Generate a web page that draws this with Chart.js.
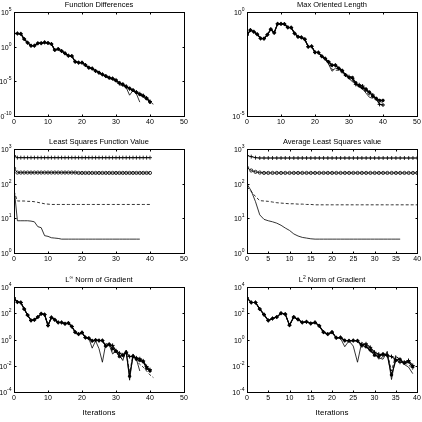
<!DOCTYPE html>
<html>
<head>
<script src="https://cdn.jsdelivr.net/npm/chart.js"></script>
<style>
  body { margin: 0; background: #fff; }
  #wrap { position: relative; width: 422px; height: 422px; overflow: hidden; }
  canvas { position: absolute; }
</style>
</head>
<body>
<div id="wrap">
  <canvas id="c1" width="211" height="135" style="left:0;top:0"></canvas>
  <canvas id="c2" width="211" height="135" style="left:211px;top:0"></canvas>
  <canvas id="c3" width="211" height="140" style="left:0;top:135px"></canvas>
  <canvas id="c4" width="211" height="140" style="left:211px;top:135px"></canvas>
  <canvas id="c5" width="211" height="147" style="left:0;top:275px"></canvas>
  <canvas id="c6" width="211" height="147" style="left:211px;top:275px"></canvas>
</div>
<script>
// all values are log10 of the plotted quantity, index = iteration

// Function Differences
const fdMain = [1.9, 1.9, 1.85, 1.1, 0.57, 0.14, 0.14, 0.48, 0.5, 0.62, 0.53, 0.38, -0.48, -0.34, -0.63, -0.96, -1.3, -1.35, -2.17, -2.3, -2.3, -2.65, -3.03, -3.15, -3.5, -3.75, -4.0, -4.24, -4.48, -4.6, -4.8, -5.3, -5.5, -5.7, -6.07, -6.25, -6.55, -6.8, -7.05, -7.4, -7.9];
const fdO = fdMain.slice(0, 30).concat([-4.9, -5.2, -5.4, -5.8, -6.0, -6.3, -6.6, -6.9, -7.1, -7.5, -8.0]);
const fdDash = fdMain.slice(0, 26).concat([-4.1, -4.4, -4.5, -4.8, -5.0, -5.3, -5.4, -5.8, -6.1, -6.5, -6.7, -7.0, -7.3, -7.6, -8.0, -8.3]);
const fdSolid = fdMain.slice(0, 27).concat([-4.3, -4.6, -4.7, -5.0, -5.5, -5.6, -5.9, -7.0, -6.3, -6.8, -8.0]);

// Max Oriented Length
const molMain = [-1.1, -0.87, -0.95, -1.07, -1.27, -1.28, -1.09, -0.83, -1.0, -0.57, -0.57, -0.58, -0.74, -0.75, -1.03, -1.19, -1.22, -1.31, -1.67, -1.65, -1.94, -1.95, -2.13, -2.24, -2.4, -2.56, -2.56, -2.71, -2.82, -3.03, -3.11, -3.2, -3.48, -3.5, -3.56, -3.75, -3.88, -3.99, -4.18, -4.44, -4.47];
const molO = molMain.slice(0, 30).concat([-3.15, -3.15, -3.4, -3.55, -3.65, -3.7, -3.85, -4.05, -4.15, -4.25, -4.25]);
const molDash = molMain.slice(0, 23).concat([-2.3, -2.5, -2.75, -2.8, -2.8, -2.95, -3.1, -3.2, -3.3, -3.5, -3.6, -3.7, -3.85, -4.0, -4.1, -4.2, -4.3, -4.35]);
const molSolid = molMain.slice(0, 24).concat([-2.5, -2.85, -2.7, -2.75, -2.9, -3.0, -3.2, -3.35, -3.4, -3.6, -3.7, -3.9, -4.1, -4.15]);

// Least Squares Function Value
const lsPlus = [2.81, 2.75, 2.75, 2.75, 2.75, 2.75, 2.75, 2.75, 2.75, 2.75, 2.75, 2.75, 2.75, 2.75, 2.75, 2.75, 2.75, 2.75, 2.75, 2.75, 2.75, 2.75, 2.75, 2.75, 2.75, 2.75, 2.75, 2.75, 2.75, 2.75, 2.75, 2.75, 2.75, 2.75, 2.75, 2.75, 2.75, 2.75, 2.75, 2.75, 2.75];
const lsO = [2.44, 2.32, 2.32, 2.32, 2.32, 2.32, 2.32, 2.32, 2.32, 2.32, 2.32, 2.32, 2.32, 2.32, 2.32, 2.32, 2.32, 2.32, 2.32, 2.31, 2.31, 2.31, 2.31, 2.31, 2.31, 2.31, 2.31, 2.31, 2.31, 2.31, 2.31, 2.31, 2.31, 2.31, 2.31, 2.31, 2.31, 2.31, 2.31, 2.31, 2.31];
const lsDash = [1.78, 1.5, 1.5, 1.5, 1.49, 1.49, 1.48, 1.46, 1.44, 1.42, 1.41, 1.4, 1.4, 1.4, 1.4, 1.4, 1.4, 1.4, 1.4, 1.4, 1.4, 1.4, 1.4, 1.4, 1.4, 1.4, 1.4, 1.4, 1.4, 1.4, 1.4, 1.4, 1.4, 1.4, 1.4, 1.4, 1.4, 1.4, 1.4, 1.4, 1.4];
const lsSolid = [1.9, 0.93, 0.93, 0.93, 0.93, 0.92, 0.9, 0.76, 0.73, 0.5, 0.48, 0.44, 0.43, 0.42, 0.4, 0.4, 0.4, 0.4, 0.4, 0.4, 0.4, 0.4, 0.4, 0.4, 0.4, 0.4, 0.4, 0.4, 0.4, 0.4, 0.4, 0.4, 0.4, 0.4, 0.4, 0.4, 0.4, 0.4];

// Average Least Squares value
const avgPlus = [2.81, 2.78, 2.75, 2.74, 2.74, 2.74, 2.74, 2.74, 2.74, 2.74, 2.74, 2.74, 2.74, 2.74, 2.74, 2.74, 2.74, 2.74, 2.74, 2.74, 2.74, 2.74, 2.74, 2.74, 2.74, 2.74, 2.74, 2.74, 2.74, 2.74, 2.74, 2.74, 2.74, 2.74, 2.74, 2.74, 2.74, 2.74, 2.74, 2.74, 2.74];
const avgO = [2.46, 2.38, 2.34, 2.32, 2.31, 2.31, 2.31, 2.31, 2.31, 2.31, 2.31, 2.31, 2.31, 2.31, 2.31, 2.31, 2.31, 2.31, 2.31, 2.31, 2.31, 2.31, 2.31, 2.31, 2.31, 2.31, 2.31, 2.31, 2.31, 2.31, 2.31, 2.31, 2.31, 2.31, 2.31, 2.31, 2.31, 2.31, 2.31, 2.31, 2.31];
const avgDash = [1.91, 1.77, 1.63, 1.51, 1.5, 1.49, 1.47, 1.45, 1.44, 1.43, 1.42, 1.42, 1.41, 1.41, 1.4, 1.4, 1.39, 1.39, 1.39, 1.39, 1.39, 1.39, 1.39, 1.39, 1.39, 1.39, 1.39, 1.39, 1.39, 1.39, 1.39, 1.39, 1.39, 1.39, 1.39, 1.39, 1.39, 1.39, 1.39, 1.39, 1.39];
const avgSolid = [1.99, 1.79, 1.48, 1.1, 0.97, 0.93, 0.9, 0.86, 0.8, 0.72, 0.65, 0.55, 0.49, 0.45, 0.43, 0.41, 0.4, 0.4, 0.4, 0.4, 0.4, 0.4, 0.4, 0.4, 0.4, 0.4, 0.4, 0.4, 0.4, 0.4, 0.4, 0.4, 0.4, 0.4, 0.4, 0.4, 0.4];

// L-infinity norm of gradient
const linfMain = [3.16, 2.85, 2.82, 2.32, 1.86, 1.45, 1.5, 1.71, 1.96, 1.9, 1.07, 1.68, 1.5, 1.3, 1.3, 1.2, 1.25, 0.99, 0.56, 0.41, 0.53, 0.15, 0.1, -0.1, -0.05, -0.08, -0.08, -0.5, -0.37, -0.45, -0.86, -1.04, -1.17, -0.97, -1.3, -1.27, -1.4, -1.47, -1.63, -2.06, -2.3];
const linfO = linfMain.slice(0, 29).concat([-0.7, -0.9, -1.3, -1.2, -1.0, -2.8, -1.3, -1.5, -1.6, -1.7, -2.2, -2.4]);
const linfDash = linfMain.slice(0, 27).concat([-0.55, -0.3, -1.0, -0.9, -1.3, -1.5, -0.9, -2.5, -1.2, -1.6, -1.9, -2.1, -2.4, -2.7, -2.9]);
const linfSolid = linfMain.slice(0, 22).concat([0.1, -0.66, -0.1, -0.7, -1.73, -0.3, -0.4, -1.1, -0.9, -1.2, -1.6, -0.8, -3.1, -1.1, -1.5, -2.4]);

// L2 norm of gradient
const l2Main = [3.16, 2.82, 2.82, 2.32, 1.9, 1.45, 1.6, 1.71, 2.0, 1.93, 1.09, 1.71, 1.53, 1.3, 1.35, 1.22, 1.3, 1.04, 0.56, 0.41, 0.56, 0.13, 0.15, -0.08, -0.1, -0.08, -0.1, -0.43, -0.33, -0.6, -0.97, -1.12, -1.17, -1.22, -1.3, -1.53, -1.73, -1.73, -1.6, -1.98];
const l2O = l2Main.slice(0, 28).concat([-0.55, -0.8, -1.2, -1.3, -1.1, -1.2, -2.7, -1.6, -1.5, -1.8, -1.7, -2.1]);
const l2Dash = l2Main.slice(0, 27).concat([-0.6, -0.35, -0.95, -1.0, -1.5, -1.3, -1.0, -2.4, -1.2, -1.6, -1.8, -1.9, -2.3]);
const l2Solid = l2Main.slice(0, 22).concat([0.1, -0.55, -0.1, -0.5, -1.73, -0.2, -0.5, -0.9, -1.0, -1.4, -1.5, -0.9, -3.05, -1.3, -1.5, -1.9, -2.1, -2.6]);

// tick values
const xTicks50 = [0, 10, 20, 30, 40, 50];
const xTicks40 = [0, 5, 10, 15, 20, 25, 30, 35, 40];
const yTicksFD = [5, 0, -5, -10];
const yTicksMOL = [0, -5];
const yTicksLS = [3, 2, 1, 0];
const yTicksGrad = [4, 2, 0, -2, -4];

const FONT = '"Liberation Sans", Arial, Helvetica, sans-serif';

function pts(arr) {
  return arr.map((v, i) => ({ x: i, y: Math.pow(10, v) }));
}

// heavy = marker series that sit on top of each other (top and bottom rows)
function plusSet(arr, heavy) {
  return { data: pts(arr), borderColor: '#000', borderWidth: heavy ? 1.1 : 0.8, pointStyle: 'cross',
    pointRadius: 2, pointBorderWidth: heavy ? 1 : 0.8, pointBorderColor: '#000' };
}
function circleSet(arr, heavy) {
  return { data: pts(arr), borderColor: '#000', borderWidth: heavy ? 1.1 : 0.8, pointStyle: 'circle',
    pointRadius: heavy ? 1.3 : 1.6, pointBorderWidth: 0.8, pointBorderColor: '#000',
    pointBackgroundColor: heavy ? '#000' : 'rgba(0,0,0,0)' };
}
function dashSet(arr) {
  return { data: pts(arr), borderColor: '#000', borderWidth: 0.8, borderDash: [3, 2], pointRadius: 0 };
}
function solidSet(arr) {
  return { data: pts(arr), borderColor: '#000', borderWidth: 0.8, pointRadius: 0 };
}

// draws matlab style box, inward ticks, 10^n labels, title and x label
function axesPlugin(cfg) {
  return {
    id: 'mAxes',
    afterDraw(chart) {
      const ctx = chart.ctx, a = chart.chartArea;
      const xs = chart.scales.x, ys = chart.scales.y;
      ctx.save();
      ctx.strokeStyle = '#000';
      ctx.lineWidth = 1;
      const L = Math.round(a.left) + 0.5, T = Math.round(a.top) + 0.5;
      const R = Math.round(a.right) + 0.5, B = Math.round(a.bottom) + 0.5;
      ctx.strokeRect(L, T, R - L, B - T);
      ctx.beginPath();
      cfg.xTicks.forEach(v => {
        const px = Math.round(xs.getPixelForValue(v)) + 0.5;
        ctx.moveTo(px, B); ctx.lineTo(px, B - 2);
        ctx.moveTo(px, T); ctx.lineTo(px, T + 2);
      });
      cfg.yTicks.forEach(e => {
        const py = Math.round(ys.getPixelForValue(Math.pow(10, e))) + 0.5;
        ctx.moveTo(L, py); ctx.lineTo(L + 2, py);
        ctx.moveTo(R, py); ctx.lineTo(R - 2, py);
      });
      ctx.stroke();

      ctx.fillStyle = '#000';
      ctx.font = '7px ' + FONT;
      ctx.textAlign = 'center';
      ctx.textBaseline = 'top';
      cfg.xTicks.forEach(v => ctx.fillText(String(v), xs.getPixelForValue(v), B + 2));

      ctx.textAlign = 'left';
      ctx.textBaseline = 'alphabetic';
      cfg.yTicks.forEach(e => {
        const py = ys.getPixelForValue(Math.pow(10, e));
        ctx.font = '7px ' + FONT;
        const w1 = ctx.measureText('10').width;
        ctx.font = '5px ' + FONT;
        const w2 = ctx.measureText(String(e)).width;
        const x0 = a.left - 2.5 - w1 - w2;
        ctx.font = '7px ' + FONT;
        ctx.fillText('10', x0, py + 3);
        ctx.font = '5px ' + FONT;
        ctx.fillText(String(e), x0 + w1, py - 1);
      });

      // title with optional superscript pieces
      let total = 0;
      cfg.title.forEach(s => {
        ctx.font = (s.sup ? '5px ' : '7.5px ') + FONT;
        s.w = ctx.measureText(s.t).width;
        total += s.w;
      });
      let tx = (a.left + a.right) / 2 - total / 2;
      cfg.title.forEach(s => {
        ctx.font = (s.sup ? '5px ' : '7.5px ') + FONT;
        ctx.fillText(s.t, tx, s.sup ? a.top - 8 : a.top - 5);
        tx += s.w;
      });

      if (cfg.xLabel) {
        ctx.font = '8px ' + FONT;
        ctx.textAlign = 'center';
        ctx.fillText(cfg.xLabel, (a.left + a.right) / 2, a.bottom + 22.5);
      }
      ctx.restore();
    }
  };
}

function makeChart(id, cfg) {
  new Chart(document.getElementById(id), {
    type: 'line',
    data: { datasets: cfg.sets },
    options: {
      responsive: false,
      animation: false,
      events: [],
      layout: { padding: cfg.pad },
      plugins: { legend: { display: false }, tooltip: { enabled: false } },
      scales: {
        x: { type: 'linear', display: false, min: 0, max: cfg.xMax },
        y: { type: 'logarithmic', display: false, min: Math.pow(10, cfg.yMin), max: Math.pow(10, cfg.yMax) }
      }
    },
    plugins: [axesPlugin(cfg)]
  });
}

makeChart('c1', {
  sets: [solidSet(fdSolid), dashSet(fdDash), circleSet(fdO, true), plusSet(fdMain, true)],
  pad: { left: 14, top: 12, right: 27, bottom: 19 },
  xMax: 50, yMin: -10, yMax: 5, xTicks: xTicks50, yTicks: yTicksFD,
  title: [{ t: 'Function Differences' }]
});
makeChart('c2', {
  sets: [solidSet(molSolid), dashSet(molDash), circleSet(molO, true), plusSet(molMain, true)],
  pad: { left: 36, top: 12, right: 4, bottom: 19 },
  xMax: 50, yMin: -5, yMax: 0, xTicks: xTicks50, yTicks: yTicksMOL,
  title: [{ t: 'Max Oriented Length' }]
});
makeChart('c3', {
  sets: [solidSet(lsSolid), dashSet(lsDash), circleSet(lsO), plusSet(lsPlus)],
  pad: { left: 14, top: 14, right: 27, bottom: 22 },
  xMax: 50, yMin: 0, yMax: 3, xTicks: xTicks50, yTicks: yTicksLS,
  title: [{ t: 'Least Squares Function Value' }]
});
makeChart('c4', {
  sets: [solidSet(avgSolid), dashSet(avgDash), circleSet(avgO), plusSet(avgPlus)],
  pad: { left: 36, top: 14, right: 4, bottom: 22 },
  xMax: 40, yMin: 0, yMax: 3, xTicks: xTicks40, yTicks: yTicksLS,
  title: [{ t: 'Average Least Squares value' }]
});
makeChart('c5', {
  sets: [solidSet(linfSolid), dashSet(linfDash), circleSet(linfO, true), plusSet(linfMain, true)],
  pad: { left: 14, top: 12, right: 27, bottom: 30 },
  xMax: 50, yMin: -4, yMax: 4, xTicks: xTicks50, yTicks: yTicksGrad,
  title: [{ t: 'L' }, { t: '\u221e', sup: true }, { t: ' Norm of Gradient' }],
  xLabel: 'Iterations'
});
makeChart('c6', {
  sets: [solidSet(l2Solid), dashSet(l2Dash), circleSet(l2O, true), plusSet(l2Main, true)],
  pad: { left: 36, top: 12, right: 4, bottom: 30 },
  xMax: 40, yMin: -4, yMax: 4, xTicks: xTicks40, yTicks: yTicksGrad,
  title: [{ t: 'L' }, { t: '2', sup: true }, { t: ' Norm of Gradient' }],
  xLabel: 'Iterations'
});
</script>
</body>
</html>
